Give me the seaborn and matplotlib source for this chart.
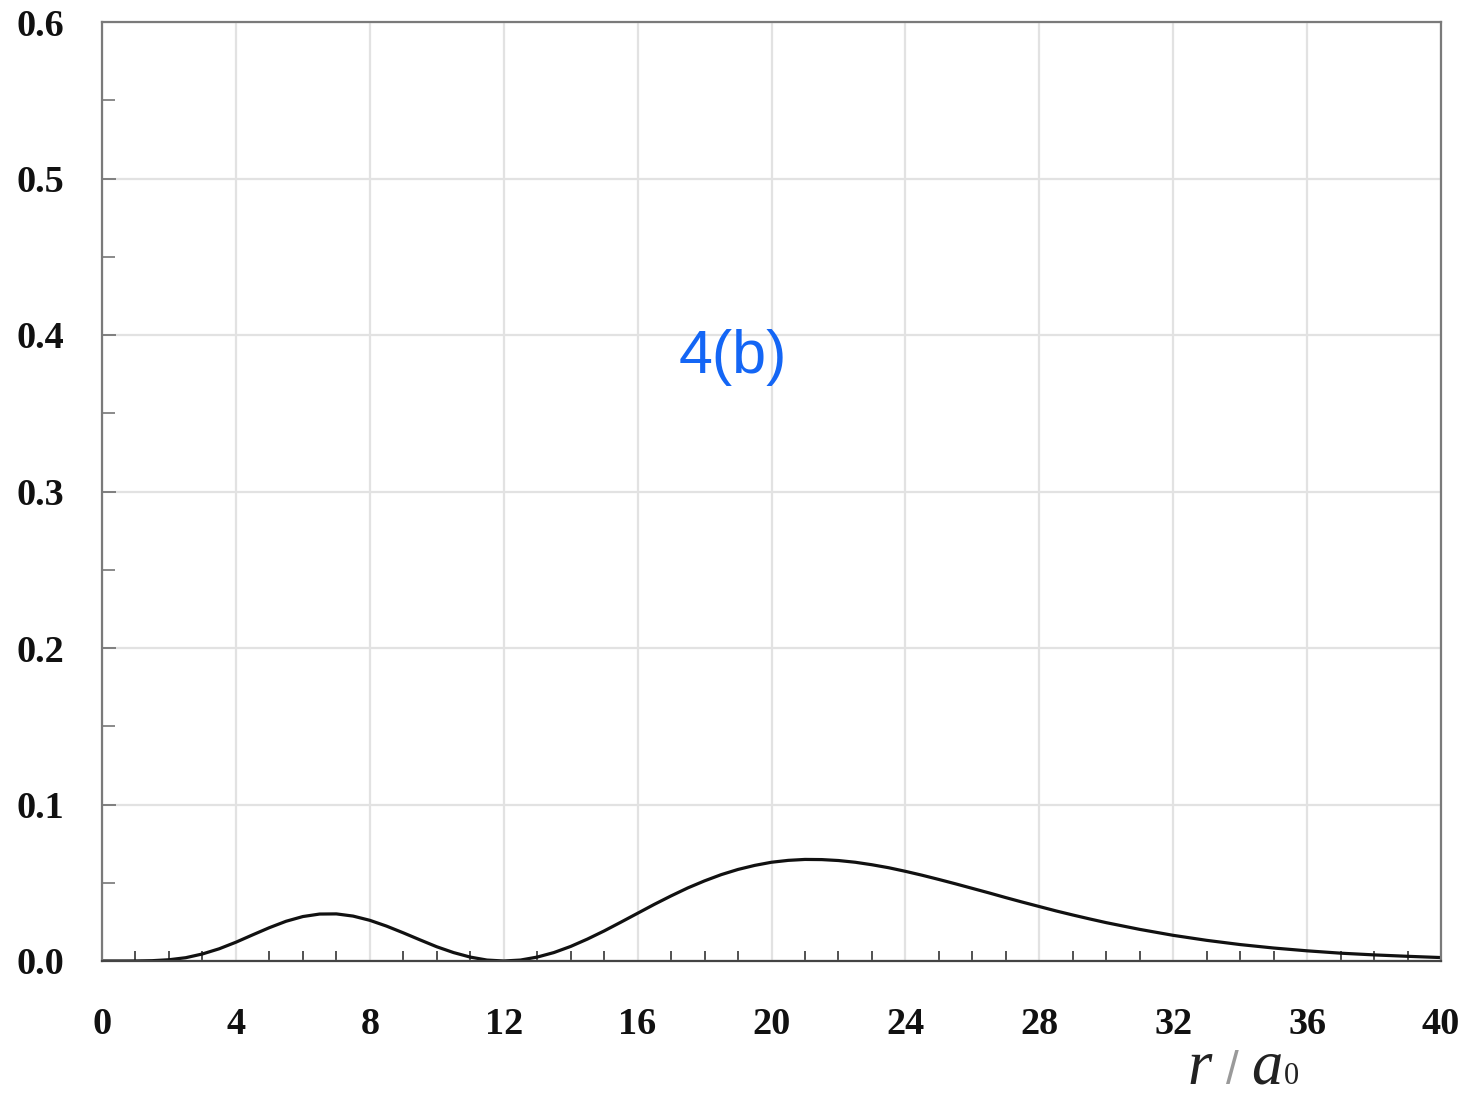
import numpy as np
import pandas as pd
import matplotlib
matplotlib.use('Agg')
import matplotlib.pyplot as plt
import seaborn as sns
from matplotlib.ticker import MultipleLocator

# radial distance r / a0 and probability
r_values = [0, 0.5, 1, 1.5, 2, 2.5, 3, 3.5, 4, 4.5, 5, 5.5, 6, 6.5, 7, 7.5,
            8, 8.5, 9, 9.5, 10, 10.5, 11, 11.5, 12, 12.5, 13, 13.5, 14, 14.5,
            15, 15.5, 16, 16.5, 17, 17.5, 18, 18.5, 19, 19.5, 20, 20.5, 21,
            21.5, 22, 22.5, 23, 23.5, 24, 24.5, 25, 25.5, 26, 26.5, 27, 27.5,
            28, 28.5, 29, 29.5, 30, 31, 32, 33, 34, 35, 36, 37, 38, 39, 40]
probability = [0.0, 0.0, 0.00002, 0.0002, 0.0008, 0.0021, 0.0045, 0.0078,
               0.0120, 0.0167, 0.0213, 0.0254, 0.0284, 0.0300, 0.0301, 0.0287,
               0.0260, 0.0223, 0.0180, 0.0135, 0.0091, 0.0054, 0.0025, 0.0006,
               0.0, 0.0006, 0.0025, 0.0054, 0.0093, 0.0140, 0.0192, 0.0248,
               0.0305, 0.0362, 0.0416, 0.0467, 0.0512, 0.0552, 0.0585, 0.0611,
               0.0631, 0.0643, 0.0649, 0.0648, 0.0642, 0.0631, 0.0615, 0.0596,
               0.0573, 0.0548, 0.0521, 0.0493, 0.0464, 0.0435, 0.0405, 0.0376,
               0.0348, 0.0320, 0.0294, 0.0269, 0.0245, 0.0202, 0.0164, 0.0132,
               0.0105, 0.0083, 0.0065, 0.0050, 0.0039, 0.0030, 0.0022]
x_ticks = [0, 4, 8, 12, 16, 20, 24, 28, 32, 36, 40]
y_ticks = [0.0, 0.1, 0.2, 0.3, 0.4, 0.5, 0.6]

sns.set_style('whitegrid')

fig = plt.figure(figsize=(14.63, 10.98), dpi=100)
ax = fig.add_axes([102 / 1463, 1 - 961 / 1098, (1441 - 102) / 1463, (961 - 22) / 1098])

df = pd.DataFrame({'r': r_values, 'P': probability})
sns.lineplot(data=df, x='r', y='P', ax=ax, color='#111111', linewidth=2.3)

ax.set_xlim(0, 40)
ax.set_ylim(0, 0.6)
ax.set_xticks(x_ticks)
ax.set_yticks(y_ticks)
ax.set_xticklabels([str(t) for t in x_ticks])
ax.set_yticklabels(['%.1f' % t for t in y_ticks])
ax.xaxis.set_minor_locator(MultipleLocator(1))
ax.yaxis.set_minor_locator(MultipleLocator(0.05))
ax.set_xlabel('')
ax.set_ylabel('')

ax.grid(True, which='major', color='#e2e2e2', linewidth=1.6)
ax.grid(False, which='minor')

for lab in ax.get_xticklabels() + ax.get_yticklabels():
    lab.set_family('Liberation Serif')
    lab.set_fontweight('bold')
    lab.set_fontsize(27.5)
    lab.set_color('#111111')

ax.tick_params(axis='x', which='major', direction='in', length=10, width=1.3,
               colors='#333333', labelcolor='#111111', pad=33, top=False)
ax.tick_params(axis='x', which='minor', direction='in', length=7, width=1.2,
               colors='#333333', bottom=True, top=False)
ax.tick_params(axis='y', which='major', direction='in', length=10, width=1.3,
               colors='#777777', labelcolor='#111111', pad=27, left=True)
ax.tick_params(axis='y', which='minor', direction='in', length=9, width=1.2,
               colors='#777777', left=True)

for side in ['left', 'top', 'right']:
    ax.spines[side].set_color('#7a7a7a')
    ax.spines[side].set_linewidth(1.6)
ax.spines['bottom'].set_color('#444444')
ax.spines['bottom'].set_linewidth(1.6)

ax.text(0.471, 0.643, '4(b)', transform=ax.transAxes, ha='center', va='center',
        fontsize=44, color='#1466f5', family='Liberation Sans')

# axis label r / a0, built from pieces like the original
base_y = 1 - 1084 / 1098
fig.text(1200 / 1463, base_y, 'r', ha='center', va='baseline', fontsize=45,
         style='italic', family='Liberation Serif', color='#222222')
fig.text(1232 / 1463, base_y, '/', ha='center', va='baseline', fontsize=33,
         family='Liberation Sans', color='#9a9a9a', fontweight='light')
fig.text(1267 / 1463, base_y, 'a', ha='center', va='baseline', fontsize=45,
         style='italic', family='Liberation Serif', color='#222222')
fig.text(1291 / 1463, base_y, '0', ha='center', va='baseline', fontsize=22,
         family='Liberation Serif', color='#222222')

fig.savefig('out.png', dpi=100, facecolor='white')
